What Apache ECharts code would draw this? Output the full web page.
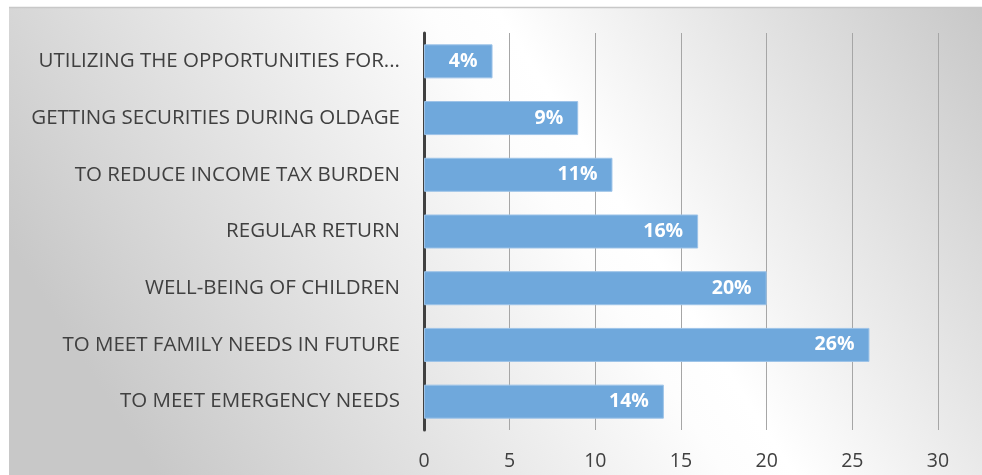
<!DOCTYPE html>
<html>
<head>
<meta charset="utf-8">
<script src="https://cdn.jsdelivr.net/npm/echarts@6/dist/echarts.min.js"></script>
<style>
  html, body { margin: 0; padding: 0; background: #ffffff; }
  #chart { width: 982px; height: 475px; }
</style>
</head>
<body>
<div id="chart"></div>
<script>
// Reasons for investing, share of respondents (%)
const categories = [
  'TO MEET EMERGENCY NEEDS',
  'TO MEET FAMILY NEEDS IN FUTURE',
  'WELL-BEING OF CHILDREN',
  'REGULAR RETURN',
  'TO REDUCE INCOME TAX BURDEN',
  'GETTING SECURITIES DURING OLDAGE',
  'UTILIZING THE OPPORTUNITIES FOR...'
];
const values = [14, 26, 20, 16, 11, 9, 4];
const axisTicks = [0, 5, 10, 15, 20, 25, 30];

const fontFamily = '"Open Sans", "Noto Sans", sans-serif';
const chart = echarts.init(document.getElementById('chart'), null, { renderer: 'canvas' });

chart.setOption({
  backgroundColor: '#ffffff',
  animation: false,
  graphic: [
    {
      // chart area fill: diagonal grey-white-grey sheen
      type: 'rect',
      z: -10,
      silent: true,
      shape: { x: 9, y: 7, width: 973, height: 468 },
      style: {
        fill: new echarts.graphic.LinearGradient(179, 510, 987, -8, [
          { offset: 0, color: '#c8c8c8' },
          { offset: 0.5, color: '#fdfdfd' },
          { offset: 0.56, color: '#ffffff' },
          { offset: 1, color: '#c6c6c6' }
        ], true),
        stroke: null
      }
    },
    {
      type: 'line',
      z: -9,
      silent: true,
      shape: { x1: 9, y1: 7.5, x2: 982, y2: 7.5 },
      style: { stroke: '#c8c8c8', lineWidth: 1.5 }
    }
  ],
  grid: { left: 424, right: 44, top: 33, bottom: 45, containLabel: false },
  xAxis: {
    type: 'value',
    min: axisTicks[0],
    max: axisTicks[axisTicks.length - 1],
    interval: axisTicks[1] - axisTicks[0],
    axisLine: { show: false },
    axisTick: { show: false },
    splitLine: { show: true, lineStyle: { color: '#a6a6a6', width: 1 } },
    axisLabel: {
      color: '#404040',
      fontSize: 19.5,
      fontFamily: fontFamily,
      margin: 21
    }
  },
  yAxis: {
    type: 'category',
    data: categories,
    axisLine: { show: true, lineStyle: { color: '#404040', width: 3 } },
    axisTick: { show: false },
    splitLine: { show: false },
    axisLabel: {
      color: '#404040',
      fontSize: 20.5,
      fontFamily: fontFamily,
      margin: 24
    }
  },
  series: [
    {
      type: 'bar',
      data: values,
      barWidth: '60%',
      itemStyle: {
        color: '#6fa8dc',
        borderColor: '#9dc3e8',
        borderWidth: 1
      },
      label: {
        show: true,
        position: 'insideRight',
        distance: 15,
        color: '#ffffff',
        fontWeight: 'bold',
        fontSize: 19.5,
        fontFamily: fontFamily,
        formatter: p => p.value + '%'
      }
    }
  ]
});
</script>
</body>
</html>
